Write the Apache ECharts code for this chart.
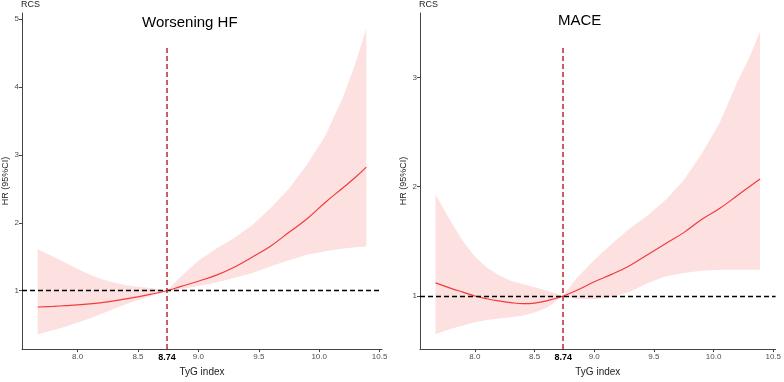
<!DOCTYPE html>
<html>
<head>
<meta charset="utf-8">
<script src="https://cdn.jsdelivr.net/npm/echarts@6/dist/echarts.min.js"></script>
<style>
  html, body { margin: 0; padding: 0; background: #fff; }
  #chart { width: 784px; height: 382px; }
</style>
</head>
<body>
<div id="chart"></div>
<script>
// TyG index grid shared by both panels
const tyg = [7.67, 7.8, 7.9, 8.0, 8.1, 8.2, 8.3, 8.4, 8.5, 8.6, 8.74, 8.85, 9.0, 9.15, 9.3, 9.45, 9.6, 9.75, 9.9, 10.05, 10.2, 10.3, 10.39];

// Worsening HF
const hfHR    = [0.76, 0.77, 0.78, 0.79, 0.805, 0.825, 0.85, 0.88, 0.91, 0.945, 1.0, 1.06, 1.14, 1.23, 1.35, 1.50, 1.66, 1.86, 2.06, 2.30, 2.52, 2.67, 2.82];
const hfLower = [0.36, 0.42, 0.47, 0.53, 0.59, 0.66, 0.73, 0.80, 0.86, 0.92, 1.0, 1.02, 1.07, 1.12, 1.19, 1.26, 1.36, 1.45, 1.53, 1.58, 1.62, 1.64, 1.65];
const hfUpper = [1.61, 1.50, 1.41, 1.32, 1.24, 1.17, 1.12, 1.08, 1.06, 1.04, 1.0, 1.20, 1.44, 1.62, 1.78, 1.97, 2.22, 2.50, 2.86, 3.28, 3.86, 4.35, 4.86];

// MACE
const maceHR    = [1.12, 1.07, 1.035, 1.0, 0.975, 0.955, 0.94, 0.93, 0.935, 0.955, 1.0, 1.05, 1.13, 1.20, 1.28, 1.38, 1.48, 1.58, 1.70, 1.80, 1.92, 2.00, 2.07];
const maceLower = [0.65, 0.70, 0.73, 0.76, 0.78, 0.795, 0.805, 0.82, 0.85, 0.89, 1.0, 0.975, 0.97, 0.99, 1.04, 1.12, 1.18, 1.21, 1.23, 1.24, 1.24, 1.24, 1.24];
const maceUpper = [1.93, 1.68, 1.50, 1.36, 1.26, 1.19, 1.14, 1.11, 1.08, 1.05, 1.0, 1.16, 1.33, 1.48, 1.62, 1.74, 1.88, 2.06, 2.30, 2.58, 2.96, 3.18, 3.42];

const cutoff = 8.74;
const xTicks = [8.0, 8.5, 9.0, 9.5, 10.0, 10.5];
const hfYTicks = [1, 2, 3, 4, 5];
const maceYTicks = [1, 2, 3];

const FONT = "'Liberation Sans', Arial, sans-serif";
const pink = '#fde0e0';
const red = '#f23b3b';

function pairs(ys) { return tyg.map((x, i) => [x, ys[i]]); }

function xAxisOf(idx) {
  return {
    type: 'value', gridIndex: idx, min: 7.54, max: 10.52,
    name: 'TyG index', nameLocation: 'middle', nameGap: 14,
    nameTextStyle: { fontFamily: FONT, fontSize: 10, color: '#222' },
    axisLine: { lineStyle: { color: '#444', width: 1 } },
    axisTick: { customValues: xTicks, length: 3, lineStyle: { color: '#444' } },
    axisLabel: {
      customValues: xTicks.concat([cutoff]), margin: 4,
      fontFamily: FONT, fontSize: 8, color: '#4d4d4d',
      formatter: v => Math.abs(v - cutoff) < 1e-6 ? '{b|8.74}' : v.toFixed(1),
      rich: { b: { fontFamily: FONT, fontSize: 9, fontWeight: 'bold', color: '#000' } }
    },
    splitLine: { show: false }
  };
}

function yAxisOf(idx, min, max, ticks) {
  return {
    type: 'value', gridIndex: idx, min: min, max: max,
    name: 'HR (95%CI)', nameLocation: 'middle', nameGap: 12,
    nameTextStyle: { fontFamily: FONT, fontSize: 9, color: '#222' },
    axisLine: { show: true, lineStyle: { color: '#444', width: 1 } },
    axisTick: { show: true, customValues: ticks, length: 3, lineStyle: { color: '#444' } },
    axisLabel: { customValues: ticks, margin: 3, fontFamily: FONT, fontSize: 8, color: '#4d4d4d' },
    splitLine: { show: false }
  };
}

function panelSeries(idx, hr, lo, hi, yMin, vTop) {
  return [
    {
      // confidence ribbon: polygon through upper band then back along lower band
      type: 'custom', xAxisIndex: idx, yAxisIndex: idx, silent: true, z: 1,
      data: tyg.map((x, i) => [x, lo[i], hi[i]]),
      encode: { x: 0, y: [1, 2] },
      renderItem: function (params, api) {
        if (params.dataIndex !== 0) return;
        const top = tyg.map((x, i) => api.coord([x, hi[i]]));
        const bot = tyg.map((x, i) => api.coord([x, lo[i]])).reverse();
        return {
          type: 'polygon',
          shape: { points: top.concat(bot) },
          style: { fill: pink, stroke: null }
        };
      }
    },
    {
      type: 'line', xAxisIndex: idx, yAxisIndex: idx, z: 3,
      data: pairs(hr), symbol: 'none', smooth: 0.4,
      lineStyle: { color: red, width: 1.2 },
      markLine: {
        silent: true, symbol: ['none', 'none'], label: { show: false },
        data: [
          { yAxis: 1, lineStyle: { color: '#000', type: [5, 3], width: 1.3 } },
          [
            { coord: [cutoff, yMin], lineStyle: { color: '#c0272d', type: [5, 3], width: 1.5 } },
            { coord: [cutoff, vTop] }
          ]
        ]
      }
    }
  ];
}

const chart = echarts.init(document.getElementById('chart'));
chart.setOption({
  animation: false,
  backgroundColor: '#fff',
  title: [
    { text: 'RCS', left: 21, top: 0, padding: 0, textStyle: { fontFamily: FONT, fontSize: 9, fontWeight: 'normal', color: '#222' } },
    { text: 'RCS', left: 419, top: 0, padding: 0, textStyle: { fontFamily: FONT, fontSize: 9, fontWeight: 'normal', color: '#222' } },
    { text: 'Worsening HF', left: 142, top: 15, padding: 0, textStyle: { fontFamily: FONT, fontSize: 15, fontWeight: 'normal', color: '#000' } },
    { text: 'MACE', left: 558, top: 13, padding: 0, textStyle: { fontFamily: FONT, fontSize: 15, fontWeight: 'normal', color: '#000' } }
  ],
  grid: [
    { left: 22, top: 13, width: 360, height: 344 },
    { left: 420, top: 13, width: 360, height: 344 }
  ],
  xAxis: [xAxisOf(0), xAxisOf(1)],
  yAxis: [yAxisOf(0, 0.14, 5.09, hfYTicks), yAxisOf(1, 0.514, 3.59, maceYTicks)],
  series: panelSeries(0, hfHR, hfLower, hfUpper, 0.14, 4.61)
    .concat(panelSeries(1, maceHR, maceLower, maceUpper, 0.514, 3.28))
});
</script>
</body>
</html>
